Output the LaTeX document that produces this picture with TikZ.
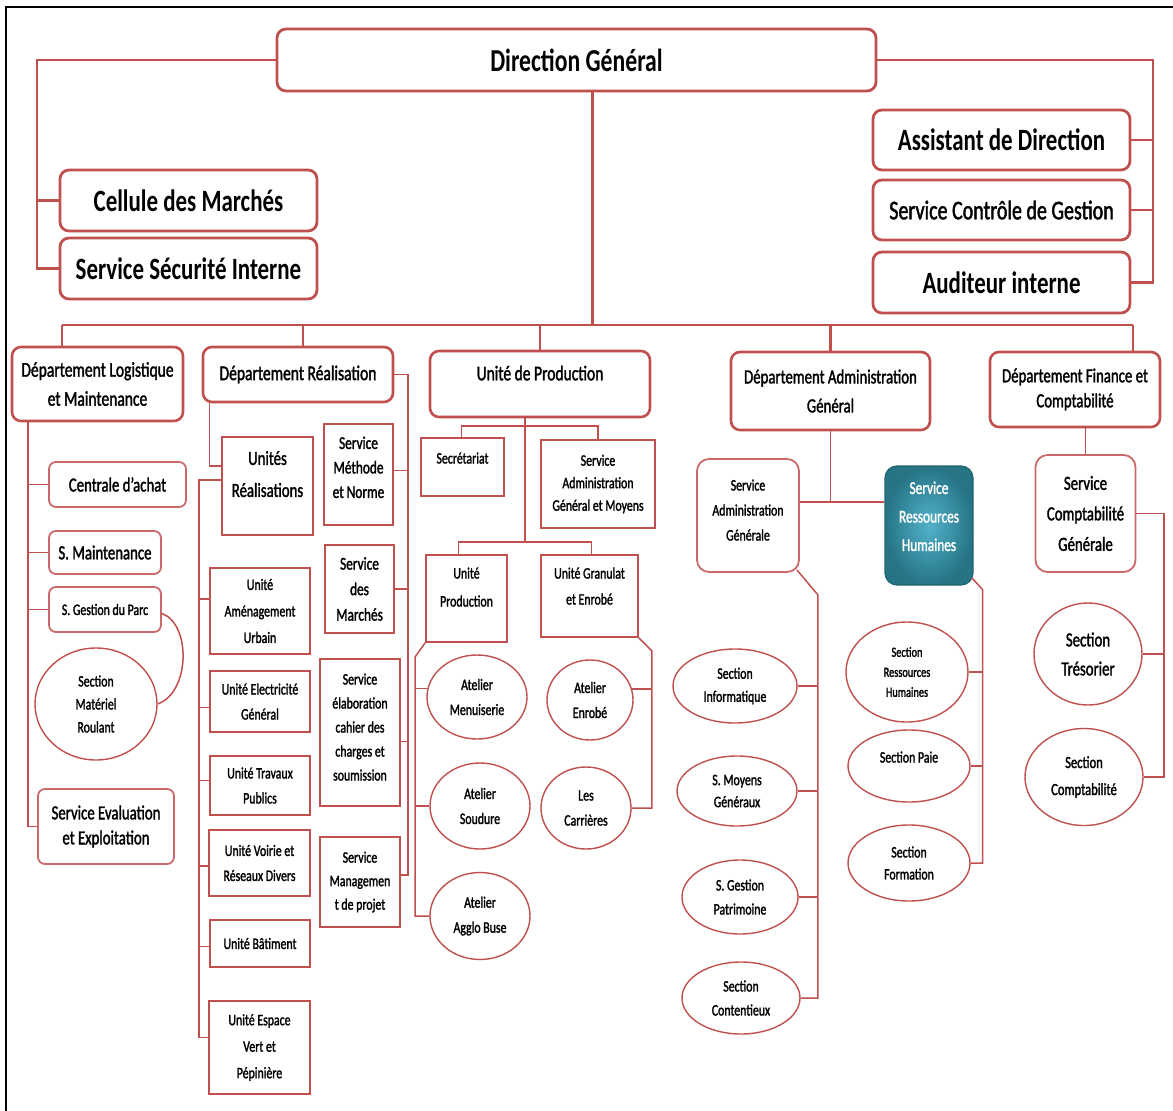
\documentclass[tikz,border=0pt]{standalone}
\usepackage{fontspec}
\setmainfont{Carlito}[FakeStretch=0.74, UprightFeatures={FakeBold=1.6}]
\usetikzlibrary{positioning,calc,shapes.geometric}
\definecolor{linkred}{RGB}{192,80,77}
\definecolor{hrteal}{RGB}{38,116,134}
\definecolor{hrlight}{RGB}{82,178,202}
\newcommand\fsz[2]{\fontsize{#1}{#2}\selectfont}
\tikzset{
  topbox/.style={draw=linkred, line width=2.8pt, rounded corners=9pt, align=center,
    inner sep=0pt, font=\bfseries\fsz{31}{38}},
  deptbox/.style={draw=linkred, line width=2.6pt, rounded corners=9pt, align=center,
    inner sep=0pt, font=\fsz{20}{28}},
  subbox/.style={draw=linkred!85, line width=1.8pt, rounded corners=7pt, align=center,
    inner sep=0pt, font=\fsz{20}{26}},
  unitbox/.style={draw=linkred, line width=1.8pt, align=center, inner sep=0pt,
    font=\fsz{16}{25}},
  hrbox/.style={draw=hrteal!85!black, line width=1.2pt, rounded corners=12pt,
    shade, inner color=hrlight, outer color=hrteal, text=white, align=center,
    inner sep=0pt, font=\fsz{18}{28.5}},
  sect/.style={ellipse, draw=linkred, line width=1.4pt, align=center, inner sep=0pt,
    font=\fsz{16}{25}},
  link/.style={draw=linkred, line width=2.6pt},
  twig/.style={draw=linkred, line width=1.5pt},
  sz/.style 2 args={minimum width=#1pt, minimum height=#2pt},
}
\begin{document}
\begin{tikzpicture}[x=1pt,y=-1pt]
  \useasboundingbox (0,0) rectangle (1173,1111);
  \draw[black, line width=2pt] (6,1111) -- (6,7) -- (1173,7);

  % direction
  \node[topbox, sz={599}{62}, font=\bfseries\fsz{32}{38}] (dg) at (576.5,60) {Direction Général};
  \node[topbox, sz={257}{61}] (cm)   at (188.5,200.5) {Cellule des Marchés};
  \node[topbox, sz={257}{61}] (ssi)  at (188.5,268.5) {Service Sécurité Interne};
  \node[topbox, sz={257}{60}] (asst) at (1001.5,140) {Assistant de Direction};
  \node[topbox, sz={257}{60}, font=\fsz{27}{32}] (scg) at (1001.5,210) {Service Contrôle de Gestion};
  \node[topbox, sz={257}{61}] (aud)  at (1001.5,282.5) {Auditeur interne};

  \coordinate (lspine) at (37,0);
  \coordinate (rspine) at (1153,0);
  \draw[link] (dg.west) -| (lspine |- ssi.west) -- (ssi.west);
  \draw[link] (cm.west) -- (lspine |- cm.west);
  \draw[link] (dg.east) -| (rspine |- aud.east) -- (aud.east);
  \draw[link] (asst.east) -- (rspine |- asst.east);
  \draw[link] (scg.east) -- (rspine |- scg.east);

  % departements
  \node[deptbox, sz={171}{74}, font=\fsz{21}{29}] (log) at (97.5,384) {Département Logistique\\et Maintenance};
  \node[deptbox, sz={190}{55}, font=\fsz{21}{28}] (real) at (298,374.5) {Département Réalisation};
  \node[deptbox, sz={220}{66}, font=\fsz{21}{22}] (prod) at (540,384) {Unité de Production\\\mbox{}};
  \node[deptbox, sz={199}{78}, font=\fsz{20}{29}] (adm) at (830.5,391) {Département Administration\\Général};
  \node[deptbox, sz={170}{75}, font=\fsz{20}{25}] (fin) at (1075,389.5) {Département Finance et\\Comptabilité};

  \coordinate (busL) at (62,325);
  \coordinate (busR) at (1133,325);
  \draw[link] ([xshift=16pt]dg.south) -- ([xshift=16pt]dg.south |- busL);
  \draw[link] (busL) -- (busR);
  \draw[link] (busL) -- (busL |- log.north);
  \draw[link] (busR) -- (busR |- fin.north);
  \draw[link] ([xshift=5pt]real.north |- busL) -- ([xshift=5pt]real.north);
  \draw[link] (prod.north |- busL) -- (prod.north);
  \draw[link] (adm.north |- busL) -- (adm.north);

  % logistique
  \node[subbox, sz={137}{45}] (ach)   at (117.5,484.5) {Centrale d'achat};
  \node[subbox, sz={112}{43}] (maint) at (105,552.5) {S. Maintenance};
  \node[subbox, sz={112}{45}, font=\fsz{16}{20}] (parc) at (105,609.5) {S. Gestion du Parc};
  \node[sect, sz={122}{112}, font=\fsz{16}{23}] (roul) at (96,704) {Section\\Matériel\\Roulant};
  \node[subbox, sz={136}{75}, font=\fsz{20}{25}] (eval) at (106,826.5) {Service Evaluation\\et Exploitation};

  \coordinate (lgsp) at (28,0);
  \draw[twig] (lgsp |- log.south) -- (lgsp |- eval.west) -- (eval.west);
  \draw[twig] (lgsp |- ach.west) -- (ach.west);
  \draw[twig] (lgsp |- maint.west) -- (maint.west);
  \draw[twig] (lgsp |- parc.west) -- (parc.west);
  \draw[twig] ($(parc.east)+(0,4)$) .. controls +(29,10) and +(33,-12) .. (roul.east);

  % realisation
  \node[unitbox, sz={91}{98}, font=\fsz{20}{32}] (ureal) at (267.5,486) {Unités\\Réalisations\\[-8pt]\mbox{}};
  \node[unitbox, sz={100}{86}, font=\fsz{16}{26.5}] (uamen) at (260,611) {Unité\\Aménagement\\Urbain};
  \node[unitbox, sz={100}{61}] (uelec) at (260,701.5) {Unité Electricité\\Général};
  \node[unitbox, sz={100}{59}] (utrav) at (260,785.5) {Unité Travaux\\Publics};
  \node[unitbox, sz={101}{66}] (uvoir) at (259.5,863) {Unité Voirie et\\Réseaux Divers};
  \node[unitbox, sz={100}{47}] (ubat)  at (260,943.5) {Unité Bâtiment};
  \node[unitbox, sz={101}{93}, font=\fsz{16}{26.5}] (uesp) at (259.5,1047.5) {Unité Espace\\Vert et\\Pépinière};

  \node[unitbox, sz={69}{101}, font=\fsz{18}{24.5}] (smeth) at (358.5,474.5) {Service\\Méthode\\et Norme\\[-10pt]\mbox{}};
  \node[unitbox, sz={69}{88}, font=\fsz{18}{25.5}] (smarch) at (359.5,589) {Service\\des\\Marchés};
  \node[unitbox, sz={80}{147}, font=\fsz{16}{24}] (selab) at (360,732.5) {Service\\élaboration\\cahier des\\charges et\\soumission\\[-13pt]\mbox{}};
  \node[unitbox, sz={80}{90}, font=\fsz{16}{23.5}] (smgmt) at (360,882) {Service\\Managemen\\t de projet};

  \draw[twig] ([xshift=8pt]real.south west) |- ($(ureal.north west)+(0,30)$);
  \coordinate (usp) at (199,0);
  \coordinate (uespin) at ($(uesp.west)+(0,-10)$);
  \draw[twig] ($(ureal.north west)+(0,44)$) -| (usp |- uespin) -- (uespin);
  \draw[twig] ($(usp |- uamen.west)+(0,-12)$) -- ($(uamen.west)+(0,-12)$);
  \draw[twig] ($(usp |- uelec.west)+(0,6)$) -- ($(uelec.west)+(0,6)$);
  \draw[twig] ($(usp |- utrav.west)+(0,-5)$) -- ($(utrav.west)+(0,-5)$);
  \draw[twig] ($(usp |- uvoir.west)+(0,3)$) -- ($(uvoir.west)+(0,3)$);
  \draw[twig] ($(usp |- ubat.west)+(0,3)$) -- ($(ubat.west)+(0,3)$);

  \coordinate (rsp) at (408,0);
  \coordinate (smgmtin) at ($(smgmt.east)+(0,-7)$);
  \draw[twig] (real.east) -| (rsp |- smgmtin) -- (smgmtin);
  \draw[twig] ($(rsp |- smeth.east)+(0,-4)$) -- ($(smeth.east)+(0,-4)$);
  \draw[twig] (rsp |- smarch.east) -- (smarch.east);
  \draw[twig] ($(rsp |- selab.east)+(0,9)$) -- ($(selab.east)+(0,9)$);

  % production
  \node[unitbox, sz={83}{58}, font=\fsz{16}{18}] (secr) at (462.5,467) {Secrétariat\\\mbox{}};
  \node[unitbox, sz={114}{88}, font=\fsz{16}{22.5}] (sadm) at (598,484) {Service\\Administration\\Général et Moyens};
  \node[unitbox, sz={81}{87}, font=\fsz{16}{28}] (uprod) at (466.5,598.5) {Unité\\Production\\[-5pt]\mbox{}};
  \node[unitbox, sz={97}{82}, font=\fsz{16}{26}] (ugran) at (589.5,596) {Unité Granulat\\et Enrobé\\[-6pt]\mbox{}};
  \node[sect, sz={100}{84}] (amen)   at (477,697) {Atelier\\Menuiserie};
  \node[sect, sz={100}{86}] (asoud)  at (480,806) {Atelier\\Soudure};
  \node[sect, sz={100}{87}] (aagglo) at (480,916) {Atelier\\Agglo Buse};
  \node[sect, sz={86}{80}]  (aenr)   at (590,700) {Atelier\\Enrobé};
  \node[sect, sz={90}{82}]  (carr)   at (586,808) {Les\\Carrières};

  \coordinate (pb1) at (0,426);
  \coordinate (pb2) at (0,542);
  \draw[twig] ([xshift=-15pt]prod.south) -- ([xshift=-15pt]prod.south |- pb2);
  \draw[twig] ([xshift=-1pt]secr.north) |- (sadm.north |- pb1) -- (sadm.north);
  \draw[twig] ([xshift=-8pt]uprod.north) |- ([xshift=2pt]ugran.north |- pb2) -- ([xshift=2pt]ugran.north);
  \coordinate (asp) at ($(uprod.south west)+(-10,14)$);
  \draw[twig] (uprod.south west) -- (asp) |- (aagglo.west);
  \draw[twig] (asp |- amen.170) -- (amen.170);
  \draw[twig] (asp |- asoud.west) -- (asoud.west);
  \coordinate (gsp) at ($(ugran.south east)+(13,13)$);
  \draw[twig] (ugran.south east) -- (gsp) |- (carr.east);
  \draw[twig] (gsp |- aenr.15) -- (aenr.15);

  % administration
  \node[subbox, sz={102}{113}, rounded corners=12pt, font=\fsz{16}{25}] (sag) at (748,515.5) {Service\\Administration\\Générale\\[-14pt]\mbox{}};
  \node[hrbox, sz={88}{119}] (srh) at (929,525.5) {Service\\Ressources\\Humaines\\[-10pt]\mbox{}};
  \node[sect, sz={124}{74}, font=\fsz{16}{23}] (sinf)  at (735,686) {Section\\Informatique};
  \node[sect, sz={120}{70}, font=\fsz{16}{22}] (smoy)  at (737,791) {S. Moyens\\Généraux};
  \node[sect, sz={116}{74}, font=\fsz{16}{24}] (spat)  at (740,897) {S. Gestion\\Patrimoine};
  \node[sect, sz={118}{72}, font=\fsz{16}{24}] (scont) at (741,998) {Section\\Contentieux};
  \node[sect, sz={122}{100}, font=\fsz{14}{20}] (srhs) at (907,672) {Section\\Ressources\\Humaines};
  \node[sect, sz={122}{72}, font=\fsz{16}{18}] (spaie) at (909,766) {Section Paie\\\mbox{}};
  \node[sect, sz={122}{76}, font=\fsz{16}{22}] (sform) at (909,863) {Section\\Formation};

  \coordinate (ab) at (0,502);
  \draw[twig] (adm.south) -- (adm.south |- ab);
  \draw[twig] (sag.east |- ab) -- (srh.west |- ab);
  \coordinate (sasp) at ($(sag.south east)+(18,22)$);
  \draw[twig] ($(sag.south east)+(-3,-3)$) -- (sasp) |- (scont.east);
  \draw[twig] (sasp |- sinf.east) -- (sinf.east);
  \draw[twig] (sasp |- smoy.east) -- (smoy.east);
  \draw[twig] (sasp |- spat.east) -- (spat.east);
  \coordinate (rhsp) at ($(srh.south east)+(9,4)$);
  \draw[twig] ($(srh.south east)+(-2,-8)$) -- (rhsp) |- (sform.east);
  \draw[twig] (rhsp |- srhs.east) -- (srhs.east);
  \draw[twig] (rhsp |- spaie.east) -- (spaie.east);

  % finance
  \node[subbox, sz={100}{117}, rounded corners=12pt, font=\fsz{20}{30.5}] (scgen) at (1085.5,513.5) {Service\\Comptabilité\\Générale};
  \node[sect, sz={108}{102}, font=\fsz{20}{29}] (stres) at (1088,654) {Section\\Trésorier};
  \node[sect, sz={118}{97}, font=\fsz{17}{27}]  (scpt)  at (1084,777) {Section\\Comptabilité};

  \coordinate (fsp) at (1164,0);
  \draw[twig] (scgen.north |- fin.south) -- (scgen.north);
  \draw[twig] (scgen.east) -| (fsp |- scpt.east) -- (scpt.east);
  \draw[twig] (fsp |- stres.east) -- (stres.east);
\end{tikzpicture}
\end{document}
